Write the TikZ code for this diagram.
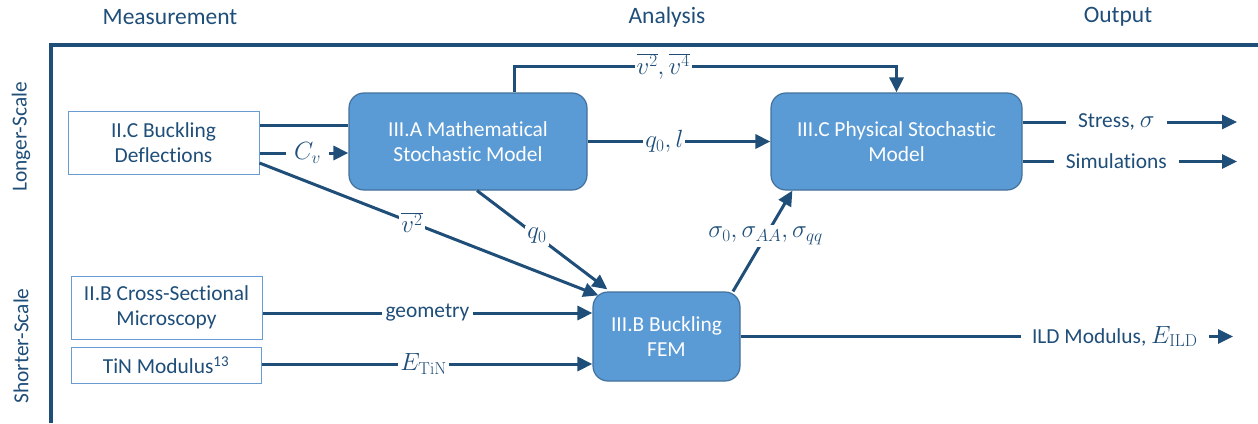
\documentclass[tikz,border=0pt]{standalone}
\usepackage[no-math]{fontspec}
\setmainfont{Carlito}[Ligatures=NoCommon]
\usetikzlibrary{arrows.meta,calc}
\definecolor{dblue}{HTML}{1F4E79}
\definecolor{bfill}{HTML}{5B9BD5}
\definecolor{bedge}{HTML}{41719C}
\definecolor{wedge}{HTML}{6A9BD1}
\newcommand{\lfont}{\fontsize{21.4}{25}\selectfont}
\newcommand{\mfont}{\fontsize{23}{27}\selectfont}
\newcommand{\hfont}{\fontsize{23.5}{27}\selectfont}
\tikzset{
  wbox/.style={draw=wedge, line width=1pt, fill=white, text=dblue, align=center, font=\lfont, inner sep=0pt},
  bbox/.style={draw=bedge, line width=1.2pt, fill=bfill, text=white, align=center, font=\lfont, rounded corners=15pt, inner sep=0pt},
  conn/.style={draw=dblue, line width=3pt},
  arr/.style={conn, -{Triangle[length=15pt,width=14pt]}},
  lab/.style={fill=white, text=dblue, font=\lfont, inner sep=2pt},
  mlab/.style={lab, font=\mfont},
  hdr/.style={text=dblue, font=\hfont},
}
\begin{document}
\begin{tikzpicture}[x=1pt,y=-1pt]
\useasboundingbox (0,0) rectangle (1258,423);
% headers
\node[hdr] (hm) at (170,17) {Measurement};
\node[hdr] (ha) at (667,17) {Analysis};
\node[hdr] (ho) at (1118,17) {Output};
\node[hdr, font=\lfont, rotate=90] (hl) at (21,137) {Longer-Scale};
\node[hdr, font=\lfont, rotate=90] (hs) at (21,346) {Shorter-Scale};
% axes
\draw[dblue, line width=4pt] (51,423) -- (51,45) -- (1258,45);
% boxes
\node[wbox, minimum width=191pt, minimum height=63pt] (iic) at (163.5,142.5) {II.C Buckling\\Deflections};
\node[wbox, minimum width=191pt, minimum height=63pt] (iib) at (166.5,307.5) {II.B Cross-Sectional\\Microscopy};
\node[wbox, minimum width=190pt, minimum height=36pt] (tin) at (166,365) {TiN Modulus\textsuperscript{13}};
\node[bbox, minimum width=238pt, minimum height=97pt] (iiia) at (468,141.5) {III.A Mathematical\\Stochastic Model};
\node[bbox, minimum width=251pt, minimum height=97pt] (iiic) at (896.5,141.5) {III.C Physical Stochastic\\Model};
\node[bbox, minimum width=147pt, minimum height=89pt] (iiib) at (666.5,336.5) {III.B Buckling\\FEM};
% helper coordinates
\coordinate (c1) at ([yshift=17.5pt]iic.east);
\coordinate (c2) at ([yshift=-10.5pt]iic.east);
\coordinate (c3) at ([yshift=-20.5pt]iic.east);
\coordinate (bnw) at ([xshift=6pt,yshift=-4pt]iiib.north west);
\coordinate (bq) at ([xshift=15pt,yshift=2pt]iiib.north west);
\coordinate (aq) at ([xshift=9pt]iiia.south);
\coordinate (t0) at ([xshift=46pt]iiia.north);
\coordinate (t1) at ([xshift=46pt,yshift=26pt]iiia.north);
\coordinate (t2) at (t1 -| iiic.north);
\coordinate (s0) at ([xshift=66.5pt]iiib.north);
\coordinate (s1) at ([xshift=22pt]iiic.south west);
\coordinate (g0) at ([yshift=-5.5pt]iib.east);
\coordinate (e0) at ([yshift=1pt]tin.east);
\coordinate (o1) at ([yshift=19.5pt]iiic.east);
\coordinate (o2) at ([yshift=-20pt]iiic.east);
\coordinate (oe1) at (1237,0 |- o1);
\coordinate (oe2) at (1237,0 |- o2);
\coordinate (ie) at (1233,0 |- iiib.east);
% connectors
\draw[conn] (c1) -- (c1 -| iiia.west);
\draw[arr] (c2) -- node[mlab, pos=0.54, inner xsep=8pt] (lcv) {$C_v$} (c2 -| iiia.west);
\draw[arr] (c3) -- node[mlab, pos=0.45] (lv2) {$\overline{v^2}$} (bnw);
\draw[arr] (aq) -- node[mlab, pos=0.46] (lq0) {$q_0$} (bq);
\draw[arr] (t0) -- (t1) -- node[mlab, pos=0.39] (lv24) {$\overline{v^2},\overline{v^4}$} (t2) -- (iiic.north);
\draw[arr] (iiia.east) -- node[mlab, pos=0.42] (lql) {$q_0,l$} (iiic.west);
\draw[arr] (s0) -- node[mlab, pos=0.55] (lsig) {$\sigma_0,\sigma_{AA},\sigma_{qq}$} (s1);
\draw[arr] (g0) -- node[lab, pos=0.5, inner xsep=4pt] (lgeo) {geometry} (g0 -| iiib.west);
\draw[arr] (e0) -- node[mlab, pos=0.49] (letin) {$E_{\mathrm{TiN}}$} (e0 -| iiib.west);
\draw[arr] (o1) -- node[lab, pos=0.437, inner xsep=12pt] (lst) {Stress, {\mfont$\sigma$}} (oe1);
\draw[arr] (o2) -- node[lab, pos=0.437, inner xsep=12pt] (lsim) {Simulations} (oe2);
\draw[arr] (iiib.east) -- node[lab, pos=0.76, inner xsep=11pt] (lild) {ILD Modulus, {\mfont$E_{\mathrm{ILD}}$}} (ie);
\end{tikzpicture}
\end{document}
